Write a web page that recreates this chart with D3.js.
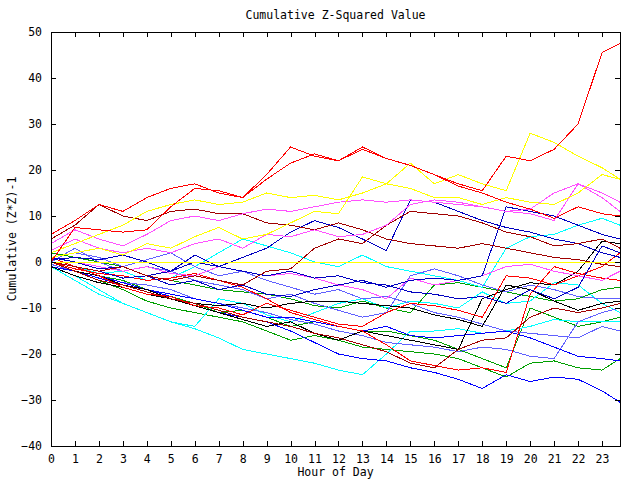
<!DOCTYPE html>
<html><head><meta charset="utf-8">
<script src="https://cdn.jsdelivr.net/npm/d3@7/dist/d3.min.js"></script>
<style>
body{margin:0;background:#fff}
text{font-family:"DejaVu Sans Mono",monospace;font-size:11.5px;fill:#000}
</style>
</head><body>
<svg id="chart" width="640" height="480"></svg>
<script>
// ---------- data ----------
const hours = [0,1,2,3,4,5,6,7,8,9,10,11,12,13,14,15,16,17,18,19,20,21,22,23,23.75];
const xTickValues = [0,1,2,3,4,5,6,7,8,9,10,11,12,13,14,15,16,17,18,19,20,21,22,23];
const yTickValues = [-40,-30,-20,-10,0,10,20,30,40,50];
const titleText = "Cumulative Z-Squared Value";
const xLabelText = "Hour of Day";
const yLabelText = "Cumulative (Z*Z)-1";

const redBig    = [6,9,12.5,11,14,16,17,15,14,19,25,23,22,25,22.5,21,19,17,15.5,23,22,24.5,30,45.5,47.5];
const red2      = [0,7.5,7,6.5,7,12,16,15.5,14,18,21.5,23.5,22,24.5,22.5,21,19,16.5,15,13,11.5,9.5,12,10.5,10];
const red3      = [0,-1.5,-2.5,-3,-4,-3.5,-2.5,-4,-5.5,-8,-11,-12.5,-14,-15,-18,-21.5,-22.5,-23.5,-23,-24,-7,-1,-2.5,-3.5,-4];
const red4      = [1,-1,-3,-5.5,-7,-7.5,-9.5,-10,-11.5,-9,-10.5,-12,-13.5,-14,-11,-9,-9.5,-10.5,-12,-3,-3.5,-5,-3,-1,2];
const yellow1   = [2,4,6,8,11,12.5,13.5,12.5,13,15,14,14.5,13.5,15,17,21.5,17,19,17,15.5,28,26,23,20.5,18];
const yellow2   = [1,2,3,1.5,4,3,5.5,7.5,5,6,8.5,11,10.5,18.5,17,16,14,14,12.5,14,13,12.5,15,19,18];
const yellowFlat= [0,0,0,0,0,0,0,0,0,0,0,0,0,0,0,0,0,0,0,0,0,0,0,0,0];
const magenta1  = [4,7,5,3.5,6,9,10,9,10.5,11.5,11,12,13,13.5,13,13.5,13,12.5,12,11,10.5,9,17,15,13];
const magenta2  = [2.5,5,3,2,3,2,4,5,3,6,5.5,7,5.5,6,8,12.5,13.5,13,12,11,11.5,15,17,14,11];
const magenta3  = [1,0,-1,-2,-1,-2.5,-3,-1,-2,-3,-2.5,-3.5,-5,-6,-8,-3.5,-5,-4,-3,-1,-0.5,-2,-3,-4,-2];
const darkred1  = [5,8,12.5,10,9,11,11.5,10.5,10.5,8.5,8,7,8.5,7,5,4,3.5,3,4,3,2,1,0.5,-0.5,-1];
const darkred2  = [0,-1,-2,-1,-3,-4,-3,-4,-5,-2,-1.5,3,5,4,8,11,10.5,10,8.5,6.5,5.5,3.5,4,5,3];
const darkred3  = [0,-2,-4,-5,-6.5,-8,-9,-10.5,-12,-13,-14,-15.5,-16.5,-18,-19.5,-22,-23,-19,-17,-16.5,-12,-10,-11,-10,-9];
const dblue1    = [0.5,1,0.5,1.5,0,-2,0,-1,1,3,6.5,9,7.5,5,2.5,13.5,13,11,9,7.5,6.5,5,4,2,1];
const dblue2    = [0,-1,-2,-3.5,-3,-5,-4,-6,-5,-7,-7.5,-6,-5,-4,-5.5,-4,-3.5,-4,-3,12,11,10,8,6,5];
const dblue3    = [1,0,-1.5,-1,-3,-2,1.5,-1,-2,-3,-2,-3.5,-3,-4.5,-5,-6.5,-7,-8,-7.5,-9,-6,-8,-5.5,3.5,2];
const blueLow   = [-1,-2,-3.5,-5,-6,-7.5,-9.5,-11,-12,-13,-15,-17.5,-20,-21,-21.5,-23,-24,-25.5,-27.5,-24.5,-26,-25,-25.5,-28,-30.5];
const blue5     = [0,-2,-3,-4.5,-6,-7,-8,-9,-10.5,-12,-12,-13,-14,-15,-14,-16,-16.5,-16,-15.5,-15,-16.5,-18.5,-20.5,-21,-21.5];
const lblue1    = [-0.5,-2,-3,-4.5,-5,-6,-8,-9,-10,-11,-12.5,-13.5,-15,-16,-17.5,-18,-18.5,-19.5,-18.5,-19,-20.5,-21,-13,-11,-10];
const lblue2    = [1,2,1,-1,0.5,2,-1,-3,-2,-4,-5.5,-7,-6,-8,-7.5,-9,-11,-12,-13.5,-15,-15.5,-16,-16.5,-14,-15];
const lblue3    = [0,3,0,-2,-1,-2,-4,-5,-6,-8,-7,-9,-10.5,-12,-11,-3,-1.5,-3,-5,-6.5,-5,-6,-7.5,-8,-8];
const cyan1     = [-1,-3,-6,-9,-11,-13,-14.5,-16.5,-19,-20,-21,-22,-23.5,-24.5,-20,-15,-15,-14.5,-15.5,-15,-14,-12.5,-13,-13,-13];
const cyan2     = [0,-1,-2.5,-2,-4,-3.5,-1,2,5,3.5,2,0,-1,1.5,-1,-2,-3,-4,-5.5,3,5.5,6,8,9.5,8];
const cyan3     = [-1,-4,-7,-9,-11,-13,-14,-8,-9,-11.5,-13,-11,-9,-8,-10,-8.5,-9,-10,-6.5,-9,-8.5,-4.5,-5,-9,-11];
const green1    = [0,-2,-4,-6,-8.5,-10,-11,-12,-13,-15,-17,-16,-17,-18.5,-19,-19.5,-20,-21,-23,-25,-22,-21.5,-23,-23.5,-21];
const green2    = [1,-1,-3,-4,-6,-7.5,-9,-11,-10.5,-12,-14,-13,-14,-15,-15,-16,-17,-19,-21,-23,-10,-12,-14,-13,-12];
const green3    = [2,1,0,-1,-3,-4,-5,-6,-6.5,-7,-8,-9.5,-10,-8.5,-10,-11,-5,-4.5,-5.5,-6.5,-7.5,-8.5,-8,-6,-5.5];
const black1    = [-1,-3,-4.5,-5.5,-7,-8,-9,-9.5,-9,-10,-9,-8.5,-8.5,-9,-9.5,-10,-11.5,-12.5,-14,-5,-6,-8.5,-10.5,-9,-8.5];
const black2    = [0,-2,-3,-5,-6,-8,-9.5,-11,-12.5,-14,-13,-15.5,-17,-15,-16,-17,-18,-19,-8,-6,-4.5,-5,-2,4.5,4];

const seriesValues = [green1,green2,green3,cyan1,cyan2,cyan3,lblue1,lblue2,lblue3,blueLow,blue5,
  black1,black2,darkred3,red3,red4,magenta3,dblue3,dblue2,dblue1,darkred2,darkred1,
  magenta2,magenta1,yellowFlat,yellow2,yellow1,red2,redBig];
const seriesColors = ["#00a000","#00a000","#00a000","#00ffff","#00ffff","#00ffff","#6060ff","#6060ff","#6060ff","#0000ff","#0000ff",
  "#000000","#000000","#a00000","#ff0000","#ff0000","#ff50ff","#0000c0","#0000c0","#0000c0","#a00000","#a00000",
  "#ff50ff","#ff50ff","#ffff00","#ffff00","#ffff00","#ff0000","#ff0000"];

// ---------- drawing ----------
const svg = d3.select("#chart");
const L = 51, R = 620, T = 32, B = 446;
const x = d3.scaleLinear().domain([0, 23.75]).range([L, R]);
const y = d3.scaleLinear().domain([-40, 50]).range([B, T]);

const line = d3.line().x((d,i)=>x(hours[i])).y(d=>y(d));
svg.append("g").selectAll("path").data(seriesValues).join("path")
  .attr("d", d=>line(d)).attr("fill","none")
  .attr("stroke",(d,i)=>seriesColors[i]).attr("stroke-width",1)
  .attr("shape-rendering","crispEdges");

function styleAxis(g){ g.select(".domain").remove(); g.selectAll("line").attr("stroke","#000").attr("shape-rendering","crispEdges"); g.selectAll("text").attr("font-family",null).attr("font-size",null); }

svg.append("g").attr("transform",`translate(0,${B})`)
  .call(d3.axisBottom(x).tickValues(xTickValues).tickSize(-5).tickPadding(9).tickFormat(d3.format("d"))).call(styleAxis);
svg.append("g").attr("transform",`translate(0,${T})`)
  .call(d3.axisTop(x).tickValues(xTickValues).tickSize(-5).tickFormat("")).call(styleAxis);
svg.append("g").attr("transform",`translate(${L},0)`)
  .call(d3.axisLeft(y).tickValues(yTickValues).tickSize(-5).tickPadding(9).tickFormat(d3.format("d"))).call(styleAxis);
svg.append("g").attr("transform",`translate(${R},0)`)
  .call(d3.axisRight(y).tickValues(yTickValues).tickSize(-5).tickFormat("")).call(styleAxis);

svg.append("rect").attr("x",L+0.5).attr("y",T+0.5).attr("width",R-L).attr("height",B-T)
  .attr("fill","none").attr("stroke","#000").attr("stroke-width",1);

svg.append("text").attr("x",(L+R)/2).attr("y",19).attr("text-anchor","middle").text(titleText);
svg.append("text").attr("x",(L+R)/2).attr("y",476).attr("text-anchor","middle").text(xLabelText);
svg.append("text").attr("transform",`translate(16,${(T+B)/2}) rotate(-90)`).attr("text-anchor","middle").text(yLabelText);
</script>
</body></html>
